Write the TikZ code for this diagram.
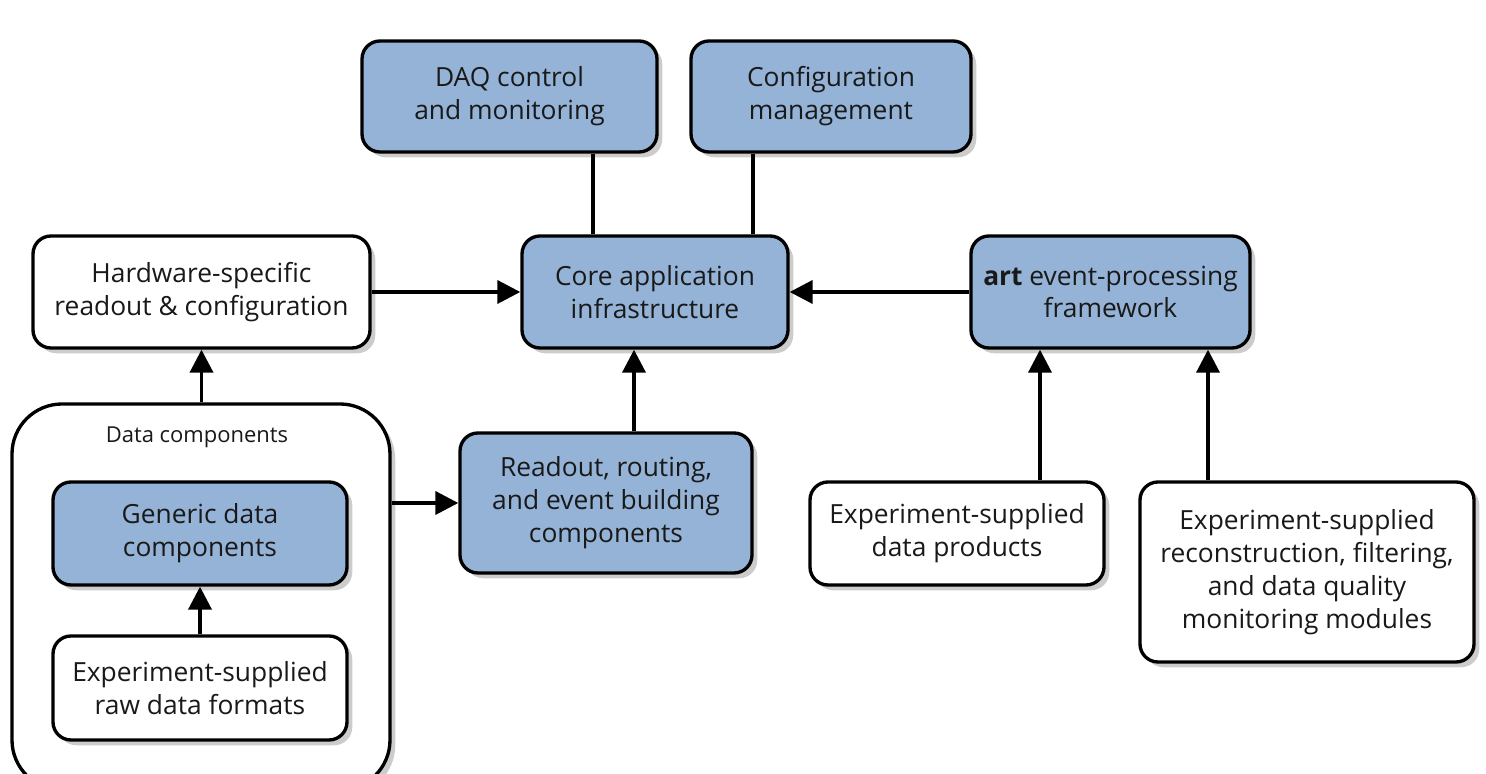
\documentclass[tikz,border=0pt]{standalone}
\usepackage{fontspec}
\setmainfont{Open Sans}
\usepackage{xcolor}
\definecolor{boxblue}{RGB}{149,179,215}
\definecolor{textgray}{RGB}{25,25,25}
\usetikzlibrary{arrows.meta}
\usetikzlibrary{shadows}

\begin{document}
\begin{tikzpicture}[
		every node/.style={font=\fontsize{15}{18.7}\selectfont, text=textgray, align=center},
		plainbox/.style={draw=black, line width=1.9pt, rounded corners=0.36cm, fill=white,
			drop shadow={shadow xshift=3pt, shadow yshift=-3pt, opacity=0.4}},
		bluebox/.style={plainbox, fill=boxblue},
		link/.style={line width=2.1pt},
		feed/.style={line width=2.1pt, -{Triangle[length=0.46cm, width=0.46cm]}}
	]
		\useasboundingbox (0,0) rectangle (29.72,15.48);
		
		%outer data box
		\node (datacomp) at (4.02,3.54) [plainbox, rounded corners=1cm, minimum width=7.56cm, minimum height=7.72cm] {};
		\node (datalabel) at (3.94,6.74) {\fontsize{12.5}{15}\selectfont Data components};
		
		%top row
		\node (daq) at (10.19,13.55) [bluebox, minimum width=5.9cm, minimum height=2.22cm] {DAQ control\\and monitoring};
		\node (config) at (16.62,13.55) [bluebox, minimum width=5.6cm, minimum height=2.22cm] {Configuration\\management};
		
		%middle row
		\node (hardware) at (4.03,9.64) [plainbox, minimum width=6.74cm, minimum height=2.24cm] {Hardware-specific\\readout \& configuration};
		\node (core) at (13.10,9.64) [bluebox, minimum width=5.32cm, minimum height=2.24cm] {Core application\\infrastructure};
		\node (art) at (22.21,9.64) [bluebox, minimum width=5.58cm, minimum height=2.24cm] {\textbf{art} event-processing\\framework};
		
		%bottom row
		\node (generic) at (4.0,4.81) [bluebox, minimum width=5.88cm, minimum height=2.06cm] {Generic data\\components};
		\node (rawformats) at (4.0,1.72) [plainbox, minimum width=5.88cm, minimum height=2.08cm] {Experiment-supplied\\raw data formats};
		\node (readout) at (12.12,5.42) [bluebox, minimum width=5.84cm, minimum height=2.8cm] {Readout, routing,\\and event building\\components};
		\node (products) at (19.14,4.81) [plainbox, minimum width=5.88cm, minimum height=2.06cm] {Experiment-supplied\\data products};
		\node (modules) at (26.14,4.04) [plainbox, minimum width=6.68cm, minimum height=3.6cm] {Experiment-supplied\\reconstruction, filtering,\\and data quality\\monitoring modules};
		
		%plain links from the top
		\draw [link] (daq.south -| 11.86,0) -- (core.north -| 11.86,0);
		\draw [link] (config.south -| 15.06,0) -- (core.north -| 15.06,0);
		
		%arrows
		\draw [feed] (hardware.east) -- (core.west);
		\draw [feed] (art.west) -- (core.east);
		\draw [feed] (readout.north -| 12.68,0) -- (core.south -| 12.68,0);
		\draw [feed] (datacomp.north -| hardware.south) -- (hardware.south);
		\draw [feed] (datacomp.east |- readout.west) -- (readout.west);
		\draw [feed] (rawformats.north) -- (generic.south);
		\foreach \x/\src in {20.8/products, 24.16/modules}
		\draw [feed] (\src.north -| \x,0) -- (art.south -| \x,0);
\end{tikzpicture}
\end{document}
